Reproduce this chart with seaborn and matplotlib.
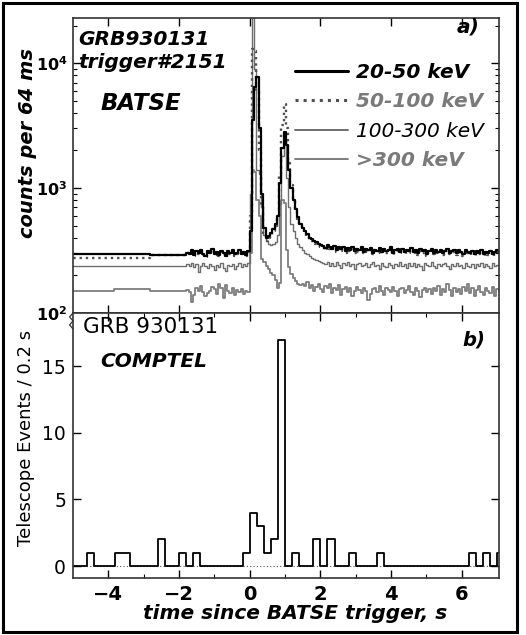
import matplotlib
matplotlib.use("Agg")
import matplotlib.pyplot as plt
import matplotlib.ticker as mticker
from matplotlib.lines import Line2D
from matplotlib.patches import Rectangle
import numpy as np
import pandas as pd
import seaborn as sns

# --- BATSE light curves, counts per 64 ms -------------------------------
# pre-trigger data come in 1.024 s bins, then 64 ms bins
PRE_EDGES = [-5.888, -4.864, -3.84, -2.816, -1.792]
FINE_START = -1.792
FINE_WIDTH = 0.064

ch1_pre = [296, 296, 296, 293]
ch1_fine = [
    305, 298, 318, 290, 312, 301, 322, 296, 288, 315, 303, 325, 298, 309,
    292, 316, 300, 287, 311, 305, 320, 294, 302, 318, 297, 309, 290, 313,
    450, 3500, 6500, 7700, 3000, 900, 480, 400, 410, 440, 470, 520, 600, 1100,
    2100, 2800, 2200, 1400, 1000, 800, 680, 590, 520, 480, 450, 430, 400, 390,
    380, 370, 360, 350,
    345, 332, 350, 338, 328, 342, 318, 335, 326, 340, 315, 330, 322, 338,
    312, 328, 320, 335, 310,
    325, 318, 332, 305, 322, 315, 330, 308, 326, 312, 320, 335, 302, 318,
    325, 310, 328, 306, 320, 314,
    330, 308, 318, 302, 325, 312, 320, 298, 316, 328, 305, 318, 310, 322,
    300, 315, 326, 304, 312, 320,
    300, 318, 308, 296, 322, 310, 302, 316, 298, 312, 305, 320, 296, 310,
    302, 315, 298, 308, 318, 300,
]

ch2_pre = [276, 276, 276, 290]
ch2_fine = [
    300, 292, 312, 285, 305, 296, 315, 290, 282, 308, 298, 318, 290, 302,
    286, 310, 295, 280, 305, 298, 312, 288, 296, 310, 292, 302, 286, 306,
    600, 13000, 12500, 6000, 2000, 700, 420, 380, 395, 420, 450, 500, 600, 1300,
    3200, 4700, 3000, 1600, 1050, 800, 660, 570, 500, 460, 430, 410, 385, 375,
    365, 355, 345, 338,
    335, 322, 340, 326, 318, 332, 308, 325, 315, 330, 305, 320, 312, 328,
    302, 318, 310, 325, 300,
    315, 308, 322, 296, 312, 305, 320, 298, 316, 302, 310, 325, 292, 308,
    315, 300, 318, 296, 310, 304,
    320, 298, 308, 292, 315, 302, 310, 288, 306, 318, 295, 308, 300, 312,
    290, 305, 316, 294, 302, 310,
    290, 308, 298, 286, 312, 300, 292, 306, 288, 302, 295, 310, 286, 300,
    292, 305, 288, 298, 308, 290,
]

ch3_pre = [238, 238, 238, 238]
ch3_fine = [
    245, 238, 250, 232, 246, 212, 240, 252, 236, 228, 248, 240, 222, 244,
    235, 250, 230, 215, 242, 236, 248, 226, 240, 252, 234, 245, 238, 250,
    900, 28000, 9000, 1400, 1300, 700, 420, 380, 360, 350, 355, 370, 420, 750,
    1800, 2400, 1200, 700, 520, 450, 400, 360, 340, 320, 305, 295, 285, 278,
    270, 265, 260, 256,
    252, 246, 258, 240, 250, 236, 255, 244, 230, 250, 242, 256, 238, 248,
    225, 246, 252, 236, 244,
    250, 232, 246, 255, 238, 244, 226, 250, 240, 235, 252, 242, 230, 248,
    238, 254, 236, 245, 228, 250,
    240, 252, 234, 246, 238, 222, 250, 242, 236, 254, 240, 230, 248, 236,
    245, 252, 238, 226, 246, 240,
    250, 236, 244, 230, 252, 240, 235, 248, 228, 245, 238, 252, 234, 246,
    240, 230, 250, 238, 244, 236,
]

ch4_pre = [150, 150, 155, 150]
ch4_fine = [
    152, 148, 122, 140, 158, 150, 165, 148, 138, 144, 150, 162, 156, 142,
    170, 160, 132, 168, 150, 145, 158, 140, 152, 148, 156, 142, 150, 148,
    300, 1400, 1350, 800, 600, 270, 255, 240, 225, 210, 200, 185, 160, 175,
    800, 760, 320, 235, 205, 190, 180, 172, 168,
    172, 165, 178, 160, 168, 150, 162, 172, 155, 148, 165, 158, 170, 145,
    160, 152, 168, 140, 156, 162, 148, 158, 136, 150, 162, 154, 145, 160,
    150, 128, 142, 155, 160, 148, 165, 150, 140, 158, 152, 146, 162, 150,
    138, 155, 160, 145, 152, 166, 148, 140, 158, 150, 135, 152, 160, 146,
    155, 142,
    158, 150, 165, 140, 155, 148, 170, 152, 138, 160, 148, 155, 142, 162,
    150, 172, 145, 158, 136, 152, 165, 148, 140, 158, 150, 145, 162, 138,
    155, 150,
]

channel_labels = ["20-50 keV", "50-100 keV", "100-300 keV", ">300 keV"]
channel_colors = ["black", "#505050", "#6e6e6e", "#7e7e7e"]
channel_styles = ["-", ":", "-", "-"]
channel_widths = [1.6, 1.7, 1.0, 1.3]
label_colors = ["black", "#7a7a7a", "black", "#7a7a7a"]
label_weights = ["bold", "bold", "normal", "bold"]

# --- COMPTEL telescope events per 0.2 s -------------------------------------
comptel_bin_start = [-4.6, -3.8, -3.6, -2.6, -2.0, -1.6, -0.2, 0.0, 0.2, 0.4,
                     0.6, 0.8, 1.2, 1.8, 2.2, 2.8, 3.6, 6.2, 6.6, 7.0]
comptel_counts = [1, 1, 1, 2, 1, 1, 1, 4, 3, 1, 2, 17, 1, 2, 2, 1, 1, 1, 1, 1]


def step_frame(pre, fine):
    edges = list(PRE_EDGES) + list(FINE_START + FINE_WIDTH * np.arange(1, len(fine) + 1))
    vals = list(pre) + list(fine)
    vals = vals + [vals[-1]]
    return pd.DataFrame({"t": edges, "counts": vals})


sns.set_style("ticks")
plt.rcParams["font.family"] = ["DejaVu Sans"]
plt.rcParams["mathtext.fontset"] = "dejavusans"
for key in ("text.color", "axes.labelcolor", "xtick.color", "ytick.color"):
    plt.rcParams[key] = "black"

fig = plt.figure(figsize=(5.26, 6.35), dpi=100)
ax1 = fig.add_axes([73 / 526, (635 - 313) / 635, 425.5 / 526, 295 / 635])
ax2 = fig.add_axes([73 / 526, (635 - 578) / 635, 425.5 / 526, 265 / 635])

series = [(ch4_pre, ch4_fine, 3), (ch3_pre, ch3_fine, 2), (ch2_pre, ch2_fine, 1), (ch1_pre, ch1_fine, 0)]
for pre, fine, i in series:
    df = step_frame(pre, fine)
    sns.lineplot(data=df, x="t", y="counts", ax=ax1, drawstyle="steps-post",
                 color=channel_colors[i], linestyle=channel_styles[i],
                 linewidth=channel_widths[i], estimator=None, sort=False)

ax1.set_yscale("log")
ax1.set_ylim(100, 23000)
ax1.set_xlim(-5, 7.04)
ax1.set_xticks([-4, -2, 0, 2, 4, 6])
ax1.xaxis.set_minor_locator(mticker.NullLocator())
ax1.yaxis.set_major_formatter(mticker.FuncFormatter(
    lambda v, _: rf"$\mathbf{{10^{{{int(round(np.log10(v)))}}}}}$"))
ax1.yaxis.set_minor_formatter(mticker.NullFormatter())
ax1.tick_params(which="both", direction="in", top=True, right=True, labelbottom=False)
ax1.tick_params(which="major", length=6, width=1, labelsize=11.5, pad=4)
ax1.tick_params(which="minor", length=3, width=0.8)
ax1.set_xlabel("")
ax1.set_ylabel("counts per 64 ms", fontsize=14, fontweight="bold", fontstyle="oblique")
ax1.yaxis.set_label_coords(-0.084, 0.576)

bold_it = dict(fontweight="bold", fontstyle="oblique", transform=ax1.transAxes)
ax1.text(0.012, 0.909, "GRB930131", fontsize=14.5, **bold_it)
ax1.text(0.012, 0.831, "trigger#2151", fontsize=14.5, **bold_it)
ax1.text(0.064, 0.688, "BATSE", fontsize=16.5, **bold_it)
ax1.text(0.955, 0.952, "a)", fontsize=14.5, ha="right", **bold_it)

handles = [Line2D([0], [0], color="black", lw=2.2),
           Line2D([0], [0], color="#505050", lw=2.2, ls=":"),
           Line2D([0], [0], color="#6e6e6e", lw=1.4),
           Line2D([0], [0], color="#7e7e7e", lw=1.4)]
leg = ax1.legend(handles, channel_labels, loc="upper left", bbox_to_anchor=(0.522, 0.848),
                 frameon=False, handlelength=2.65, handletextpad=0.35,
                 labelspacing=0.52, borderpad=0, borderaxespad=0,
                 prop=dict(size=14.5, weight="bold", style="oblique"))
for txt, col, wt in zip(leg.get_texts(), label_colors, label_weights):
    txt.set_color(col)
    txt.set_fontweight(wt)

# --- COMPTEL panel ---------------------------------------------------------
bin_edges = [round(-5.0 + 0.2 * k, 3) for k in range(62)]
df_ct = pd.DataFrame({"t": [s + 0.1 for s in comptel_bin_start],
                      "n": comptel_counts})
ax2.axhline(0, color="#555555", ls=(0, (1, 2)), lw=0.8)
sns.histplot(data=df_ct, x="t", weights="n", bins=bin_edges, element="step",
             fill=False, color="black", linewidth=1.3, ax=ax2)
ax2.set_xlim(-5, 7.04)
ax2.set_ylim(-0.9, 19)
ax2.set_xticks([-4, -2, 0, 2, 4, 6])
ax2.set_xticks([-3, -1, 1, 3, 5], minor=True)
ax2.set_yticks([0, 5, 10, 15])
ax2.tick_params(which="both", direction="in", top=True, right=True)
ax2.tick_params(which="major", length=6, width=1, pad=5)
ax2.tick_params(which="minor", length=3, width=0.8)
ax2.tick_params(axis="y", labelsize=13.5)
ax2.tick_params(axis="x", labelsize=14)
for lab in ax2.get_xticklabels():
    lab.set_fontweight("bold")
ax2.set_ylabel("Telescope Events / 0.2 s", fontsize=13)
ax2.yaxis.set_label_coords(-0.09, 0.528)
ax2.set_xlabel("time since BATSE trigger, s", fontsize=14.5, fontweight="bold",
               fontstyle="oblique")
ax2.xaxis.set_label_coords(0.522, -0.098)
ax2.xaxis.label.set_va("top")

ax2.text(0.0235, 0.9245, "GRB 930131", fontsize=15.5, transform=ax2.transAxes)
ax2.text(0.064, 0.796, "COMPTEL", fontsize=14.5, fontweight="bold", fontstyle="oblique",
         transform=ax2.transAxes)
ax2.text(0.968, 0.879, "b)", fontsize=14, fontweight="bold", fontstyle="oblique",
         ha="right", transform=ax2.transAxes)

# axis break mark on the left spine
ax2.plot([0, -0.008, 0.0, -0.008, 0.0], [1.0, 0.985, 0.97, 0.955, 0.94],
         transform=ax2.transAxes, color="#333333", lw=0.9, clip_on=False)

for ax in (ax1, ax2):
    for sp in ax.spines.values():
        sp.set_visible(True)
        sp.set_linewidth(1.2)
        sp.set_color("#333333")

fig.add_artist(Rectangle((2.7 / 526, (635 - 631.5) / 635), (517 - 2.7) / 526,
                         (631.5 - 2.7) / 635, transform=fig.transFigure,
                         fill=False, lw=2.2, ec="black"))

fig.savefig("out.png", dpi=100)
